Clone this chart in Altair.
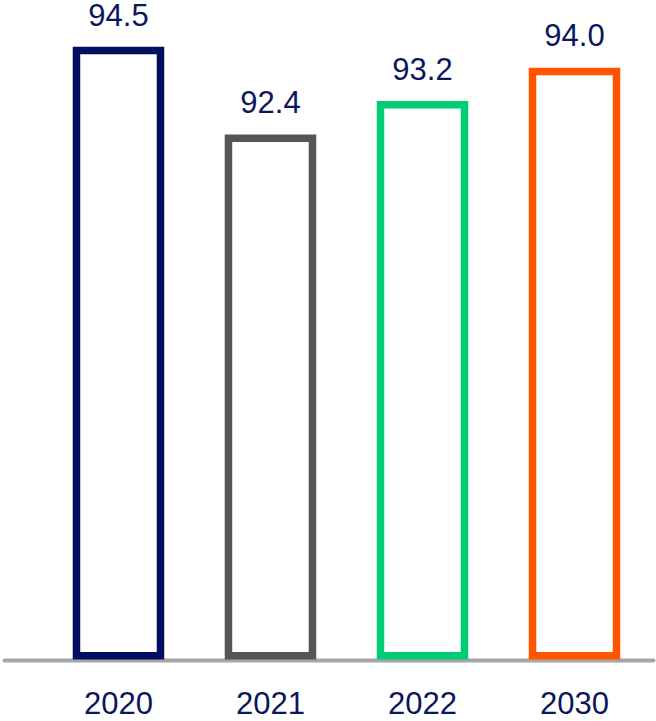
import altair as alt
import pandas as pd

# Values per year
years = ["2020", "2021", "2022", "2030"]
values = [94.5, 92.4, 93.2, 94.0]
bar_colors = ["#000f5f", "#555555", "#00cc76", "#ff5500"]

NAVY = "#0b1660"
FONT = "Liberation Sans"

df = pd.DataFrame({"year": years, "value": values})

x_enc = alt.X(
    "year:N",
    sort=years,
    scale=alt.Scale(paddingInner=0, paddingOuter=0.1348, align=0.939),
    axis=alt.Axis(
        title=None,
        labelAngle=0,
        labelFontSize=31,
        labelFont=FONT,
        labelColor=NAVY,
        labelPadding=29,
        ticks=False,
        grid=False,
        domainColor="#a6a6a6",
        domainWidth=4,
        domainCap="round",
    ),
)
y_scale = alt.Scale(domain=[79.9, 95.71], zero=False, nice=False)

bars = (
    alt.Chart(df)
    .mark_bar(filled=False, size=84, strokeWidth=7.5, strokeJoin="miter")
    .encode(
        x=x_enc,
        y=alt.Y("value:Q", scale=y_scale, axis=None),
        y2=alt.Y2(datum=80),
        color=alt.Color(
            "year:N",
            scale=alt.Scale(domain=years, range=bar_colors),
            legend=None,
        ),
    )
)

labels = (
    alt.Chart(df)
    .mark_text(
        fontSize=31,
        font=FONT,
        color=NAVY,
        baseline="alphabetic",
        align="center",
        dy=-25,
    )
    .encode(
        x=alt.X("year:N", sort=years),
        y=alt.Y("value:Q", scale=y_scale),
        text=alt.Text("value:Q", format=".1f"),
    )
)

chart = (
    alt.layer(bars, labels)
    .properties(
        width=649,
        height=660,
        autosize=alt.AutoSizeParams(type="none"),
        padding={"left": 4, "right": 3, "top": 0, "bottom": 61},
        background="white",
    )
    .configure_view(stroke=None)
)

chart.save("out.html", embed_options={"renderer": "svg", "actions": False})
